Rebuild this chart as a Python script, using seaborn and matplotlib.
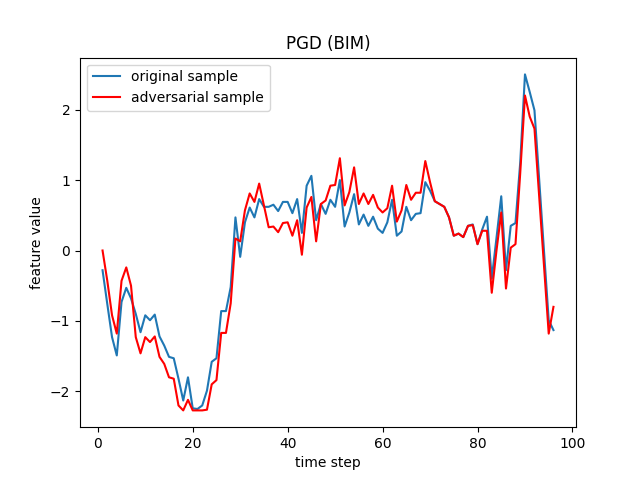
import matplotlib
matplotlib.use("Agg")
import matplotlib.pyplot as plt
import pandas as pd
import seaborn as sns

time_step = list(range(1, 97))

original = [
    -0.28, -0.76, -1.23, -1.49, -0.73, -0.53, -0.68, -0.90, -1.16, -0.92,
    -0.99, -0.91, -1.22, -1.35, -1.51, -1.53, -1.82, -2.13, -1.80, -2.24,
    -2.25, -2.20, -1.99, -1.58, -1.53, -0.86, -0.86, -0.52, 0.47, -0.09,
    0.40, 0.61, 0.47, 0.73, 0.62, 0.62, 0.65, 0.56, 0.69, 0.69,
    0.53, 0.73, 0.25, 0.92, 1.06, 0.43, 0.66, 0.52, 0.72, 0.62,
    1.00, 0.34, 0.54, 0.80, 0.37, 0.51, 0.35, 0.48, 0.31, 0.25,
    0.40, 0.72, 0.21, 0.27, 0.62, 0.43, 0.52, 0.53, 0.97, 0.85,
    0.70, 0.66, 0.62, 0.47, 0.21, 0.24, 0.19, 0.35, 0.37, 0.09,
    0.30, 0.48, -0.40, 0.18, 0.77, -0.28, 0.35, 0.39, 1.25, 2.50,
    2.25, 1.99, 1.00, 0.00, -0.99, -1.13,
]

adversarial = [
    0.00, -0.43, -0.92, -1.18, -0.43, -0.24, -0.50, -1.23, -1.46, -1.23,
    -1.30, -1.22, -1.51, -1.61, -1.80, -1.82, -2.20, -2.27, -2.12, -2.27,
    -2.27, -2.27, -2.26, -1.90, -1.84, -1.17, -1.17, -0.75, 0.17, 0.13,
    0.57, 0.81, 0.69, 0.95, 0.64, 0.33, 0.34, 0.26, 0.39, 0.40,
    0.21, 0.43, -0.06, 0.61, 0.76, 0.13, 0.66, 0.71, 0.92, 0.93,
    1.31, 0.64, 0.83, 1.18, 0.66, 0.81, 0.66, 0.79, 0.61, 0.54,
    0.60, 0.92, 0.41, 0.57, 0.93, 0.72, 0.82, 0.82, 1.27, 0.97,
    0.70, 0.66, 0.62, 0.47, 0.21, 0.24, 0.19, 0.35, 0.36, 0.09,
    0.28, 0.28, -0.60, 0.00, 0.54, -0.54, 0.04, 0.09, 1.10, 2.20,
    1.90, 1.73, 0.76, -0.21, -1.18, -0.80,
]

df = pd.DataFrame({"time step": time_step, "original": original, "adversarial": adversarial})

fig, ax = plt.subplots(figsize=(6.4, 4.8), dpi=100)
sns.lineplot(data=df, x="time step", y="original", color="#1f77b4", label="original sample", ax=ax)
sns.lineplot(data=df, x="time step", y="adversarial", color="red", label="adversarial sample", ax=ax)

ax.set_title("PGD (BIM)")
ax.set_xlabel("time step")
ax.set_ylabel("feature value")
ax.legend(loc="upper left")
plt.savefig("out.png", dpi=100)
